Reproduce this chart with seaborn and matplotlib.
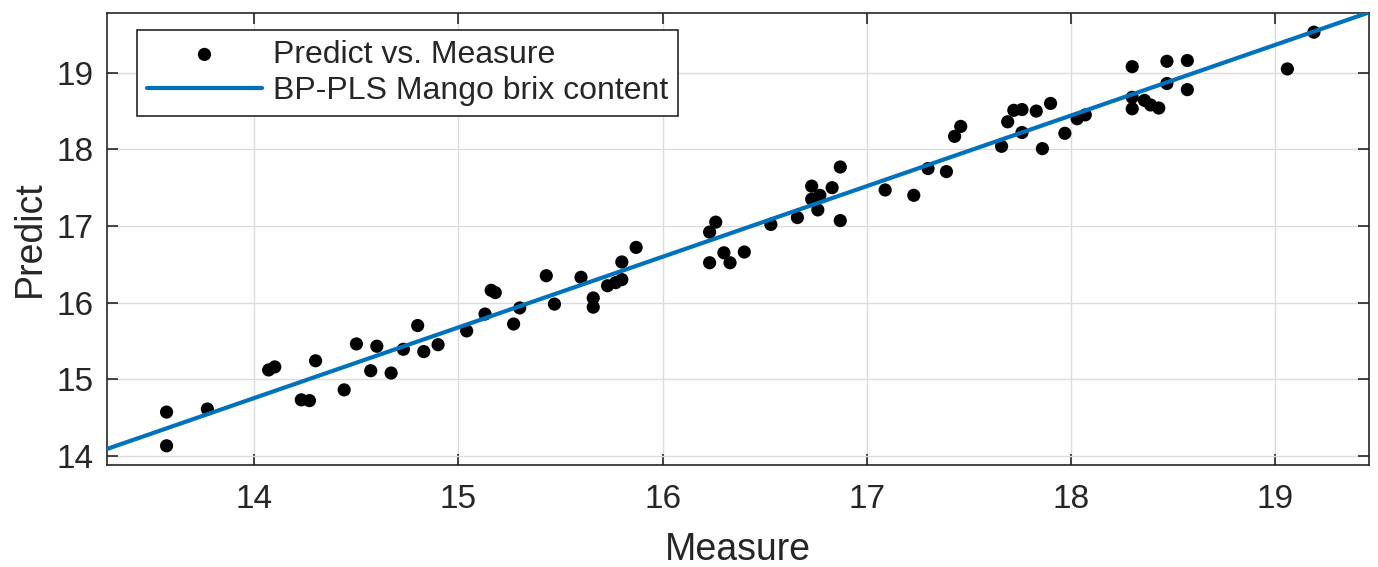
import numpy as np
import pandas as pd
import matplotlib
matplotlib.use("Agg")
import matplotlib.pyplot as plt
import seaborn as sns

measure = [13.57, 13.57, 13.77, 14.07, 14.10, 14.30, 14.23, 14.27, 14.44, 14.50,
           14.57, 14.60, 14.67, 14.73, 14.80, 14.83, 14.90, 15.04, 15.13, 15.16,
           15.18, 15.27, 15.30, 15.43, 15.47, 15.60, 15.66, 15.66, 15.73, 15.77,
           15.80, 15.80, 15.87, 16.23, 16.26, 16.23, 16.30, 16.33, 16.40, 16.53,
           16.66, 16.73, 16.73, 16.77, 16.76, 16.83, 16.87, 16.87, 17.09, 17.23,
           17.30, 17.39, 17.43, 17.46, 17.66, 17.69, 17.72, 17.76, 17.76, 17.83,
           17.90, 17.86, 17.97, 18.03, 18.07, 18.30, 18.30, 18.30, 18.36, 18.39,
           18.43, 18.47, 18.47, 18.57, 18.57, 19.06, 19.19]
predict = [14.57, 14.13, 14.61, 15.12, 15.16, 15.24, 14.73, 14.72, 14.86, 15.46,
           15.11, 15.43, 15.08, 15.39, 15.70, 15.36, 15.45, 15.63, 15.85, 16.16,
           16.13, 15.72, 15.93, 16.35, 15.98, 16.33, 16.06, 15.94, 16.22, 16.26,
           16.30, 16.53, 16.72, 16.92, 17.05, 16.52, 16.65, 16.52, 16.66, 17.02,
           17.11, 17.52, 17.35, 17.40, 17.21, 17.50, 17.07, 17.77, 17.47, 17.40,
           17.75, 17.71, 18.17, 18.30, 18.04, 18.36, 18.51, 18.52, 18.22, 18.50,
           18.60, 18.01, 18.21, 18.40, 18.45, 19.08, 18.68, 18.53, 18.64, 18.58,
           18.54, 19.15, 18.86, 19.16, 18.78, 19.05, 19.53]

# fitted line: predict = slope * measure + intercept
slope = 0.922
intercept = 1.846
x_range = [13.28, 19.46]
y_range = [13.88, 19.78]
x_ticks = [14, 15, 16, 17, 18, 19]
y_ticks = [14, 15, 16, 17, 18, 19]

sns.set_style("ticks")
plt.rcParams["font.family"] = ["Liberation Sans", "DejaVu Sans"]

df = pd.DataFrame({"Measure": measure, "Predict": predict})
fit = pd.DataFrame({"Measure": x_range})
fit["Predict"] = slope * fit["Measure"] + intercept

fig = plt.figure(figsize=(13.78, 5.67), dpi=100)
ax = fig.add_axes([0.0779, 0.180, 0.9156, 0.797])

sns.scatterplot(data=df, x="Measure", y="Predict", ax=ax, color="black",
                s=90, edgecolor="none", label="Predict vs. Measure", zorder=3)
sns.lineplot(data=fit, x="Measure", y="Predict", ax=ax, color="#0072BD",
             linewidth=3, label="BP-PLS Mango brix content", zorder=4)

ax.set_xlim(x_range)
ax.set_ylim(y_range)
ax.set_xticks(x_ticks)
ax.set_yticks(y_ticks)
ax.grid(True, color="#dcdcdc", linewidth=1)
ax.set_axisbelow(True)
for s in ax.spines.values():
    s.set_color("#262626")
    s.set_linewidth(1.2)
ax.tick_params(direction="in", length=8, width=1.2, colors="#262626",
               labelsize=24, top=True, right=True, pad=14)
ax.tick_params(axis="y", pad=10)
ax.set_xlabel("Measure", fontsize=27, color="#262626", labelpad=12)
ax.set_ylabel("Predict", fontsize=27, color="#262626", labelpad=6)

leg = ax.legend(loc="upper left", bbox_to_anchor=(0.0238, 0.962), fontsize=23,
                frameon=True, fancybox=False, edgecolor="#262626", framealpha=1,
                handlelength=3.6, handletextpad=0.35, borderpad=0.3,
                labelspacing=0.2, borderaxespad=0)
leg.get_frame().set_linewidth(1.2)

plt.savefig("out.png", dpi=100)
plt.close()
